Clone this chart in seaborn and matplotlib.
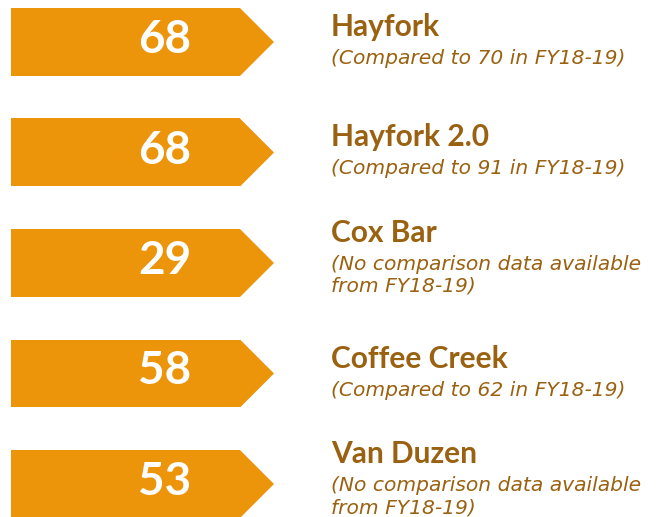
import matplotlib
matplotlib.use("Agg")
import matplotlib.pyplot as plt
from matplotlib.patches import Polygon
import seaborn as sns
import pandas as pd

# ---- data ----
sites = ["Hayfork", "Hayfork 2.0", "Cox Bar", "Coffee Creek", "Van Duzen"]
scores = [68, 68, 29, 58, 53]
prior_scores = [70, 91, None, 62, None]
prior_year = "FY18-19"

# ---- style ----
ORANGE = "#EC940A"
BROWN = "#9A6110"
BODY_LEN = 229      # banner body length (px)
TIP_LEN = 34        # arrow tip length (px)
ROW_PX = 110.5      # px per category row
PX = 1.0 / ROW_PX   # one pixel in category units

sns.set_theme(style="white")
plt.rcParams["font.family"] = ["Lato", "DejaVu Sans"]

fig = plt.figure(figsize=(6.57, 5.17), dpi=100)
ax = fig.add_axes([0, 0, 1, 1])

df = pd.DataFrame({"site": sites, "score": scores})
df["banner"] = BODY_LEN

sns.barplot(data=df, x="banner", y="site", orient="h", color=ORANGE,
            saturation=1, width=68 / ROW_PX, linewidth=0, ax=ax)

ax.set_xlim(-11, 646)
ax.set_ylim((517 - 42) / ROW_PX, -42 / ROW_PX)

for patch in list(ax.patches):
    x1 = patch.get_x() + patch.get_width()
    y0 = patch.get_y()
    h = patch.get_height()
    tip = Polygon([(x1, y0), (x1 + TIP_LEN, y0 + h / 2), (x1, y0 + h)],
                  closed=True, facecolor=ORANGE, edgecolor="none")
    ax.add_patch(tip)

for i, (site, score, prior) in enumerate(zip(sites, scores, prior_scores)):
    ax.text(154, i + 11 * PX, str(score), color="white", fontsize=33,
            fontweight="bold", ha="center", va="baseline")
    if prior is not None:
        sub_lines = [f"(Compared to {prior} in {prior_year})"]
        title_off = -6
    else:
        sub_lines = ["(No comparison data available", f"from {prior_year})"]
        title_off = -21
    ax.text(320, i + title_off * PX, site, color=BROWN, fontsize=21.5,
            fontweight="bold", ha="left", va="baseline")
    for k, line in enumerate(sub_lines):
        ax.text(320, i + (title_off + 28 + 22 * k) * PX, line, color=BROWN,
                fontsize=14.6, fontstyle="italic", ha="left", va="baseline",
                family=["DejaVu Sans"])

ax.set_axis_off()
fig.savefig("out.png", dpi=100)
